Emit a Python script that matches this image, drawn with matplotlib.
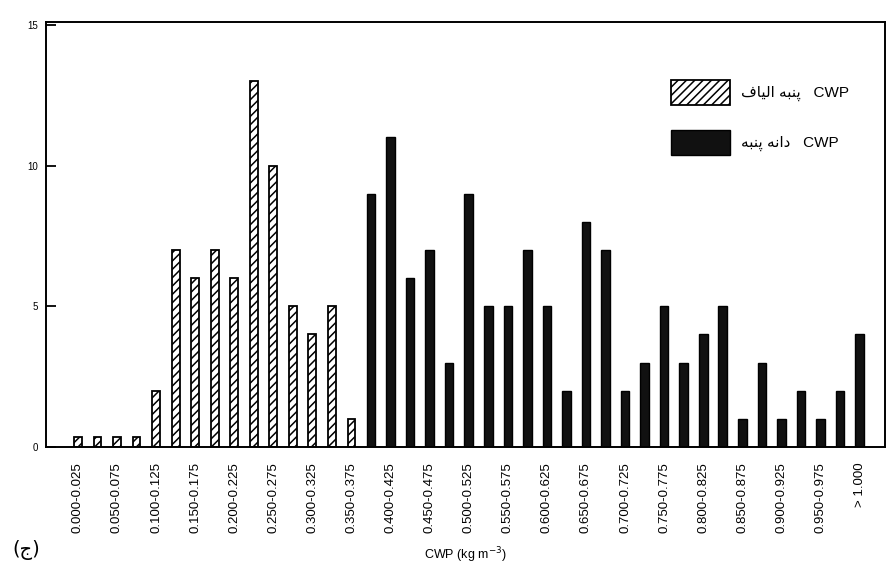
import matplotlib
matplotlib.use("Agg")
import matplotlib.pyplot as plt
import numpy as np

plt.rcParams['font.family'] = ['Liberation Sans', 'DejaVu Sans']
plt.rcParams['hatch.linewidth'] = 1.1

# frequency per 0.025 class (first 15 classes: fibre CWP, then seed CWP)
fibre_counts = [0.35, 0.35, 0.35, 0.35, 2, 7, 6, 7, 6, 13, 10, 5, 4, 5, 1]
seed_counts = [9, 11, 6, 7, 3, 9, 5, 5, 7, 5, 2, 8, 7, 2, 3, 5, 3, 4, 5, 1,
               3, 1, 2, 1, 2, 4]

tick_labels = ["0.000-0.025", "0.050-0.075", "0.100-0.125", "0.150-0.175",
               "0.200-0.225", "0.250-0.275", "0.300-0.325", "0.350-0.375",
               "0.400-0.425", "0.450-0.475", "0.500-0.525", "0.550-0.575",
               "0.600-0.625", "0.650-0.675", "0.700-0.725", "0.750-0.775",
               "0.800-0.825", "0.850-0.875", "0.900-0.925", "0.950-0.975",
               "> 1.000"]

# legend words, shaped Persian glyphs written in display order
label_fibre = "\uFED1\uFE8E\uFBFF\uFEDF\uFE8D" + " " + "\uFEEA\uFE92\uFEE8\uFB58" + "   CWP"
label_seed = "\uFEEA\uFE92\uFEE8\uFB58" + " " + "\uFEEA\uFEE7\uFE8D\uFEA9" + "   CWP"

x_fibre = np.arange(len(fibre_counts))
x_seed = np.arange(len(fibre_counts), len(fibre_counts) + len(seed_counts))

fig = plt.figure(figsize=(8.89, 5.87), dpi=100)
ax = fig.add_axes([0.052, 0.2385, 0.9435, 0.724])

b1 = ax.bar(x_fibre, fibre_counts, width=0.4, color='white', edgecolor='black',
            hatch='////', linewidth=1.3, label=label_fibre)
b2 = ax.bar(x_seed, seed_counts, width=0.44, color='#111111', edgecolor='black',
            linewidth=1.0, label=label_seed)

ax.set_xlim(-1.62, 41.3)
ax.set_ylim(0, 15.1)
ax.set_yticks([0, 5, 10, 15])
ax.tick_params(axis='y', direction='in', length=7, width=1.3, labelsize=7, pad=6)
ax.set_xticks(np.arange(0, 41, 2))
ax.set_xticklabels(tick_labels, rotation=90, fontsize=9.5, va='top')
ax.tick_params(axis='x', length=0, pad=11)

for s in ax.spines.values():
    s.set_linewidth(1.4)

ax.set_xlabel("CWP (kg m$^{-3}$)", fontsize=9, labelpad=9)

leg = ax.legend(handles=[b1, b2], loc='upper left', bbox_to_anchor=(0.728, 0.897),
                frameon=False, fontsize=11, handlelength=3.9, handleheight=2.2,
                labelspacing=1.6, handletextpad=0.7)

fig.text(0.014, 0.055, "(ج)", fontsize=14, family=['DejaVu Sans'])

fig.savefig("out.png", dpi=100)
